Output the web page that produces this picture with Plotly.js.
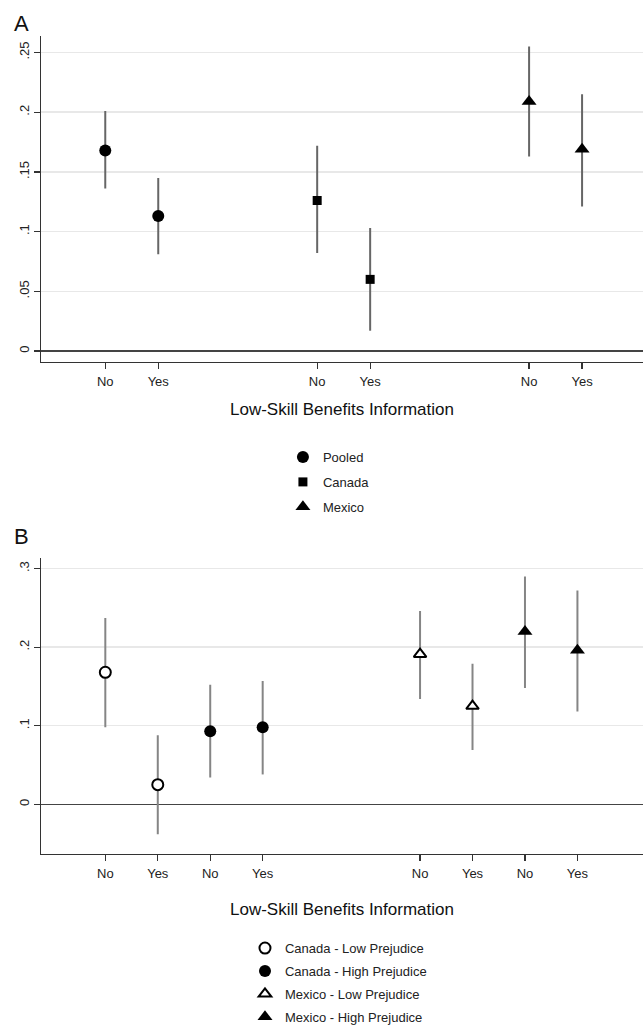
<!DOCTYPE html>
<html>
<head>
<meta charset="utf-8">
<script src="https://cdn.plot.ly/plotly-3.0.1.min.js"></script>
<style>html,body{margin:0;padding:0;background:#fff;}#chart{width:643px;height:1029px;}</style>
</head>
<body>
<div id="chart"></div>
<script>
// ---- Panel A data ----
const tickLabels = ['No', 'Yes'];
const seriesA = ['Pooled', 'Canada', 'Mexico'];
const xA_pooled = [1, 2];
const xA_canada = [5, 6];
const xA_mexico = [9, 10];
const estA_pooled = [0.168, 0.113];
const loA_pooled = [0.136, 0.081];
const hiA_pooled = [0.201, 0.145];
const estA_canada = [0.126, 0.060];
const loA_canada = [0.082, 0.017];
const hiA_canada = [0.172, 0.103];
const estA_mexico = [0.209, 0.169];
const loA_mexico = [0.163, 0.121];
const hiA_mexico = [0.255, 0.215];
const yTicksA = [0, 0.05, 0.1, 0.15, 0.2, 0.25];
const yTickTextA = ['0', '.05', '.1', '.15', '.2', '.25'];

// ---- Panel B data ----
const seriesB = ['Canada - Low Prejudice', 'Canada - High Prejudice', 'Mexico - Low Prejudice', 'Mexico - High Prejudice'];
const xB_canLow = [1, 2];
const xB_canHigh = [3, 4];
const xB_mexLow = [7, 8];
const xB_mexHigh = [9, 10];
const estB_canLow = [0.168, 0.025];
const loB_canLow = [0.098, -0.038];
const hiB_canLow = [0.237, 0.088];
const estB_canHigh = [0.093, 0.098];
const loB_canHigh = [0.034, 0.038];
const hiB_canHigh = [0.152, 0.157];
const estB_mexLow = [0.191, 0.125];
const loB_mexLow = [0.134, 0.069];
const hiB_mexLow = [0.246, 0.179];
const estB_mexHigh = [0.220, 0.196];
const loB_mexHigh = [0.148, 0.118];
const hiB_mexHigh = [0.290, 0.272];
const yTicksB = [0, 0.1, 0.2, 0.3];
const yTickTextB = ['0', '.1', '.2', '.3'];

const FONT = 'Liberation Sans, Arial, Helvetica, sans-serif';

function ci(est, lo, hi, color) {
  return {
    type: 'data', symmetric: false,
    array: est.map((v, i) => hi[i] - v),
    arrayminus: est.map((v, i) => v - lo[i]),
    color: color, thickness: 2, width: 0
  };
}
function tr(name, x, est, lo, hi, axis, legend, symbol, size, fill, errColor) {
  return {
    type: 'scatter', mode: 'markers', name: name, x: x, y: est,
    xaxis: axis === 1 ? 'x' : 'x2', yaxis: axis === 1 ? 'y' : 'y2',
    legend: legend, legendgroup: name,
    marker: {symbol: symbol, size: size, color: fill, line: {color: '#000', width: fill === '#fff' ? 2 : 0}},
    error_y: ci(est, lo, hi, errColor),
    hoverinfo: 'skip'
  };
}

const errA = '#666666';
const errB = '#858585';
const data = [
  tr(seriesA[0], xA_pooled, estA_pooled, loA_pooled, hiA_pooled, 1, 'legend', 'circle', 12, '#000', errA),
  tr(seriesA[1], xA_canada, estA_canada, loA_canada, hiA_canada, 1, 'legend', 'square', 9, '#000', errA),
  tr(seriesA[2], xA_mexico, estA_mexico, loA_mexico, hiA_mexico, 1, 'legend', 'triangle-up', 13, '#000', errA),
  tr(seriesB[0], xB_canLow, estB_canLow, loB_canLow, hiB_canLow, 2, 'legend2', 'circle', 11, '#fff', errB),
  tr(seriesB[1], xB_canHigh, estB_canHigh, loB_canHigh, hiB_canHigh, 2, 'legend2', 'circle', 12, '#000', errB),
  tr(seriesB[2], xB_mexLow, estB_mexLow, loB_mexLow, hiB_mexLow, 2, 'legend2', 'triangle-up', 11, '#fff', errB),
  tr(seriesB[3], xB_mexHigh, estB_mexHigh, loB_mexHigh, hiB_mexHigh, 2, 'legend2', 'triangle-up', 13, '#000', errB)
];

const xTickValsA = xA_pooled.concat(xA_canada, xA_mexico);
const xTickValsB = xB_canLow.concat(xB_canHigh, xB_mexLow, xB_mexHigh);

const axisCommon = {
  showline: true, linecolor: '#333', linewidth: 1.3,
  ticks: 'outside', ticklen: 6, tickcolor: '#333', tickwidth: 1.2,
  tickfont: {family: FONT, size: 13, color: '#222'},
  fixedrange: true
};

const layout = {
  width: 643, height: 1029, autosize: false,
  margin: {l: 0, r: 0, t: 0, b: 0, autoexpand: false},
  paper_bgcolor: '#fff', plot_bgcolor: '#fff',
  font: {family: FONT, color: '#222'},
  showlegend: true,
  xaxis: Object.assign({}, axisCommon, {
    domain: [0.0645, 1], range: [-0.204, 11.15], anchor: 'y',
    tickmode: 'array', tickvals: xTickValsA,
    ticktext: xTickValsA.map((v, i) => tickLabels[i % 2]),
    ticklabelstandoff: 1,
    showgrid: false, zeroline: false
  }),
  yaxis: Object.assign({}, axisCommon, {
    domain: [0.6482, 0.965], range: [-0.0092, 0.2638], anchor: 'x',
    tickmode: 'array', tickvals: yTicksA, ticktext: yTickTextA, tickangle: -90,
    showgrid: true, gridcolor: '#e8e8e8', gridwidth: 1.5,
    zeroline: true, zerolinecolor: '#444', zerolinewidth: 1.6
  }),
  xaxis2: Object.assign({}, axisCommon, {
    domain: [0.0645, 1], range: [-0.217, 11.25], anchor: 'y2',
    tickmode: 'array', tickvals: xTickValsB,
    ticktext: xTickValsB.map((v, i) => tickLabels[i % 2]),
    ticklabelstandoff: 1,
    showgrid: false, zeroline: false
  }),
  yaxis2: Object.assign({}, axisCommon, {
    domain: [0.1701, 0.4574], range: [-0.0632, 0.313], anchor: 'x2',
    tickmode: 'array', tickvals: yTicksB, ticktext: yTickTextB, tickangle: -90,
    showgrid: true, gridcolor: '#e8e8e8', gridwidth: 1.5,
    zeroline: true, zerolinecolor: '#444', zerolinewidth: 1.6
  }),
  legend: {
    x: 0.44, xanchor: 'left', y: 0.5704, yanchor: 'top',
    font: {family: FONT, size: 13, color: '#222'},
    traceorder: 'grouped', tracegroupgap: 5, bgcolor: 'rgba(0,0,0,0)', borderwidth: 0
  },
  legend2: {
    x: 0.381, xanchor: 'left', y: 0.0932, yanchor: 'top',
    font: {family: FONT, size: 13, color: '#222'},
    traceorder: 'grouped', tracegroupgap: 3, bgcolor: 'rgba(0,0,0,0)', borderwidth: 0
  },
  annotations: [
    {text: 'A', xref: 'paper', yref: 'paper', x: 12 / 643, xanchor: 'left', y: 1 - 23.5 / 1029, yanchor: 'middle', showarrow: false, font: {family: FONT, size: 22, color: '#111'}},
    {text: 'B', xref: 'paper', yref: 'paper', x: 12 / 643, xanchor: 'left', y: 1 - 536.5 / 1029, yanchor: 'middle', showarrow: false, font: {family: FONT, size: 22, color: '#111'}},
    {text: 'Low-Skill Benefits Information', xref: 'paper', yref: 'paper', x: 342 / 643, xanchor: 'center', y: 1 - 409 / 1029, yanchor: 'middle', showarrow: false, font: {family: FONT, size: 17, color: '#111'}},
    {text: 'Low-Skill Benefits Information', xref: 'paper', yref: 'paper', x: 342 / 643, xanchor: 'center', y: 1 - 909 / 1029, yanchor: 'middle', showarrow: false, font: {family: FONT, size: 17, color: '#111'}}
  ]
};

Plotly.newPlot('chart', data, layout, {staticPlot: true, displayModeBar: false});
</script>
</body>
</html>
